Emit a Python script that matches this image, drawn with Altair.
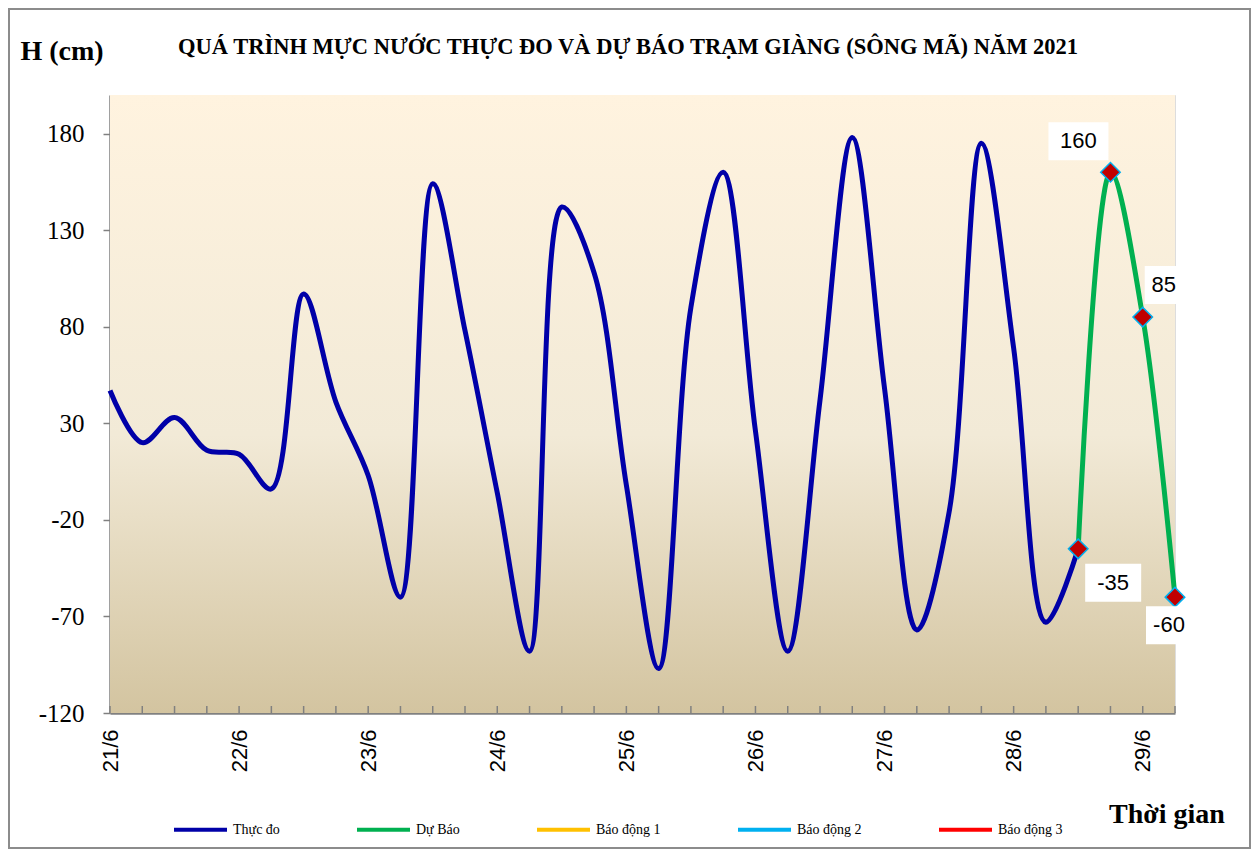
import altair as alt
import pandas as pd

# ---- data (6-hour steps from 21/6 00h) ----
obs_k = list(range(31))
obs_h = [47, 20, 33, 16, 14, -4, 97, 41, 3, -60, 154, 78, -6, -88, 142, 108,
         -2, -97, 90, 160, 26, -88, 42, 178, 48, -77, -16, 175, 69, -73, -35]
fc_k = [30, 31, 32, 33]
fc_h = [-35, 160, 85, -60]
fc_labels = ["-35", "160", "85", "-60"]
day_labels = ["21/6", "22/6", "23/6", "24/6", "25/6", "26/6", "27/6", "28/6", "29/6"]
series_names = ["Thực đo", "Dự Báo", "Báo động 1", "Báo động 2", "Báo động 3"]
series_colors = ["#0000A8", "#00B050", "#FFC000", "#00B0F0", "#FF0000"]
y_ticks = [-120, -70, -20, 30, 80, 130, 180]
minor_k = list(range(34))

W, H = 1065, 618

lines_df = pd.DataFrame(
    {"k": obs_k + fc_k,
     "h": obs_h + fc_h,
     "series": [series_names[0]] * len(obs_k) + [series_names[1]] * len(fc_k)}
)
fc_df = pd.DataFrame({"k": fc_k, "h": fc_h, "lab": fc_labels})
ticks_df = pd.DataFrame({"k": minor_k})
one = pd.DataFrame({"a": [0]})

xscale = alt.Scale(domain=[0, 33], nice=False, zero=False)
yscale = alt.Scale(domain=[-120, 200], nice=False, zero=False)

label_js = "[" + ",".join('"%s"' % d for d in day_labels) + "]"
xaxis = alt.Axis(values=list(range(0, 33, 4)), labelExpr=label_js + "[round(datum.value/4)]",
                 ticks=False, domainColor="#808080", domainWidth=2.5, grid=False,
                 labelFont="Liberation Sans", labelFontSize=22, labelColor="black",
                 labelAngle=-90, labelPadding=16, title=None)
yaxis = alt.Axis(values=y_ticks, labelExpr="'' + datum.value", tickSize=7,
                 tickColor="#808080", tickWidth=1.5,
                 domainColor="#808080", domainWidth=2.5, grid=False,
                 labelFont="Liberation Serif", labelFontSize=25, labelColor="black",
                 labelPadding=19, title=None)

bg = alt.Chart(one).mark_rect(
    fill=alt.Gradient(gradient="linear",
                      stops=[alt.GradientStop(color="#FFF3DF", offset=0),
                             alt.GradientStop(color="#F2EAD7", offset=0.55),
                             alt.GradientStop(color="#D3C4A0", offset=1)],
                      x1=0, x2=0, y1=0, y2=1)
).encode(x=alt.value(0), x2=alt.value(W), y=alt.value(0), y2=alt.value(H))

frame = alt.Chart(one).mark_rect(fillOpacity=0, stroke="#8C8C8C", strokeWidth=2).encode(
    x=alt.value(-101), x2=alt.value(1140), y=alt.value(-86), y2=alt.value(753))

minor = alt.Chart(ticks_df).mark_rule(color="#808080", strokeWidth=1.5).encode(
    x=alt.X("k:Q", scale=xscale, axis=xaxis),
    y=alt.value(H - 7), y2=alt.value(H))

lines = alt.Chart(lines_df).mark_line(strokeWidth=5, interpolate="catmull-rom").encode(
    x=alt.X("k:Q", scale=xscale, axis=xaxis),
    y=alt.Y("h:Q", scale=yscale, axis=yaxis),
    color=alt.Color("series:N",
                    scale=alt.Scale(domain=series_names, range=series_colors),
                    legend=alt.Legend(orient="none", legendX=62, legendY=706,
                                      direction="horizontal", columns=5,
                                      symbolType="stroke", symbolSize=2809,
                                      symbolStrokeWidth=4, labelFont="Liberation Serif",
                                      labelFontSize=14, labelColor="black",
                                      columnPadding=69, labelOffset=4, title=None)),
    order=alt.Order("k:Q"),
)

pts = alt.Chart(fc_df).mark_point(shape="diamond", size=380, filled=True, fill="#C00000",
                                  stroke="#00B0F0", strokeWidth=1.5, opacity=1).encode(
    x=alt.X("k:Q", scale=xscale), y=alt.Y("h:Q", scale=yscale))

offsets = {"-35": (35, 34, 56), "160": (-32, -31, 60), "85": (21, -32, 38), "-60": (-6, 28, 46)}
label_layers = []
for lab, (dx, dy, bw) in offsets.items():
    base = alt.Chart(fc_df).transform_filter(alt.datum.lab == lab)
    box = base.mark_rect(color="white", width=bw, height=38, xOffset=dx, yOffset=dy).encode(
        x=alt.X("k:Q", scale=xscale), y=alt.Y("h:Q", scale=yscale))
    txt = base.mark_text(font="Liberation Sans", fontSize=22, color="black", dx=dx, dy=dy,
                         align="center", baseline="middle").encode(
        x=alt.X("k:Q", scale=xscale), y=alt.Y("h:Q", scale=yscale), text="lab:N")
    label_layers += [box, txt]

title = alt.Chart(one).mark_text(font="Liberation Serif", fontWeight="bold", fontSize=22.5,
                                 align="center", baseline="middle", color="black").encode(
    x=alt.value(518), y=alt.value(-48),
    text=alt.value("QUÁ TRÌNH MỰC NƯỚC THỰC ĐO VÀ DỰ BÁO TRẠM GIÀNG (SÔNG MÃ) NĂM 2021"))
ytitle = alt.Chart(one).mark_text(font="Liberation Serif", fontWeight="bold", fontSize=28,
                                  align="center", baseline="middle", color="black").encode(
    x=alt.value(-48), y=alt.value(-43), text=alt.value("H (cm)"))
xtitle = alt.Chart(one).mark_text(font="Liberation Serif", fontWeight="bold", fontSize=28,
                                  align="center", baseline="middle", color="black").encode(
    x=alt.value(1057), y=alt.value(720), text=alt.value("Thời gian"))

chart = alt.layer(bg, frame, minor, lines, pts, *label_layers, title, ytitle, xtitle).properties(
    width=W, height=H,
    padding={"left": 102, "top": 87, "right": 76, "bottom": 142},
    autosize=alt.AutoSizeParams(type="none"),
).configure_view(stroke="black", strokeWidth=1).configure(background="white")

chart.save("out.html", embed_options={"renderer": "svg", "actions": False})
